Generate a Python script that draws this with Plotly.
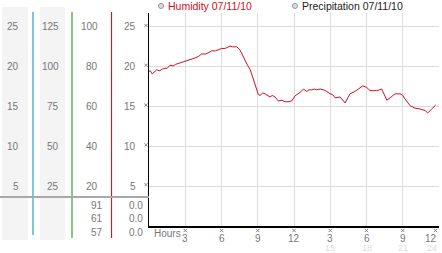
import plotly.graph_objects as go

W, H = 442, 253

# ---- data ----
hours = [0.0, 0.1, 0.27, 0.45, 0.63, 0.9, 1.1, 1.32, 1.5, 1.74, 2.0, 2.2, 2.43, 2.7, 3.12, 3.4,
         3.81, 4.1, 4.36, 4.7, 5.19, 5.5, 6.02, 6.3, 6.71, 6.9, 7.26, 7.53, 7.75, 7.95, 8.15,
         8.36, 8.5, 8.64, 8.78, 8.91, 9.05, 9.19, 9.4, 9.6, 9.8, 10.02, 10.2, 10.43, 10.6, 10.71,
         11.0, 11.26, 11.5, 11.81, 12.09, 12.36, 12.6, 12.78, 13.05, 13.25, 13.47, 13.7, 13.88,
         14.16, 14.45, 14.71, 14.98, 15.2, 15.4, 15.81, 16.0, 16.23, 16.45, 16.64, 17.05, 17.33,
         17.69, 18.02, 18.29, 18.6, 18.85, 19.26, 19.45, 19.68, 19.95, 20.36, 20.78, 21.0, 21.19,
         21.4, 21.61, 22.02, 22.43, 22.85, 23.07, 23.4, 23.73]
humidity = [19.4, 19.5, 19.1, 19.4, 19.6, 19.5, 19.7, 19.8, 19.8, 20.2, 20.1, 20.3, 20.4, 20.6,
            20.8, 20.9, 21.1, 21.3, 21.6, 21.6, 22.0, 22.0, 22.3, 22.3, 22.6, 22.5, 22.5, 22.1,
            21.4, 20.7, 20.2, 19.7, 19.0, 18.3, 17.6, 17.0, 16.5, 16.4, 16.7, 16.6, 16.4, 16.2,
            16.4, 16.2, 15.9, 15.7, 15.8, 15.6, 15.6, 15.7, 16.35, 16.6, 16.9, 17.2, 16.9, 17.1,
            17.1, 17.2, 17.1, 17.2, 17.1, 16.9, 16.6, 16.5, 16.1, 16.2, 15.9, 15.45, 16.1, 16.6,
            16.9, 17.2, 17.6, 17.4, 17.0, 17.0, 17.0, 17.2, 16.5, 15.8, 16.1, 16.6, 16.6, 16.4,
            15.95, 15.5, 15.1, 14.8, 14.7, 14.5, 14.2, 14.7, 15.2]

y_ticks = [25, 20, 15, 10, 5]
col1_labels = ["25", "20", "15", "10", "5"]
col2_labels = ["125", "100", "75", "50", "25"]
col3_labels = ["100", "80", "60", "40", "20"]
col4_labels = ["25", "20", "15", "10", "5"]
bottom_col3 = ["91", "61", "57"]
bottom_col4 = ["0.0", "0.0", "0.0"]
x_ticks = [3, 6, 9, 12, 15, 18, 21, 24]
x_labels_top = ["3", "6", "9", "12", "3", "6", "9", "12"]
x_labels_bottom = {15: "15", 18: "18", 21: "21", 24: "24"}
legend_items = [("Humidity 07/11/10", "#cc1122"), ("Precipitation 07/11/10", "#222222")]

# ---- geometry ----
X0, X1 = 149, 439   # plot left/right px
YT, YB = 13, 226    # plot top/bottom px
YMAX = 26.75
PX_PER_H = (X1 - X0) / 24.0
PX_PER_V = (YB - YT) / YMAX

def px(x):
    return x / W

def py(y):
    return (H - y) / H

def yval_px(v):
    return YB - v * PX_PER_V

def hour_px(h):
    return X0 + h * PX_PER_H

FONT = "Liberation Sans, Arial, sans-serif"
GRAY = "#777777"

fig = go.Figure()
fig.add_trace(go.Scatter(x=hours, y=humidity, mode="lines",
                         line=dict(color="#cc1122", width=1), hoverinfo="skip",
                         showlegend=False))

shapes = []
annotations = []

def add_mark(cx, cy):
    r = 1.6
    for s in (1, -1):
        shapes.append(dict(type="line", xref="paper", yref="paper",
                           x0=px(cx - r), x1=px(cx + r), y0=py(cy - s * r), y1=py(cy + s * r),
                           line=dict(color="#8a8a8a", width=1)))

# left panel gray columns
for (a, b) in [(2, 28), (40, 65)]:
    shapes.append(dict(type="rect", xref="paper", yref="paper", x0=px(a), x1=px(b),
                       y0=py(240), y1=py(7), fillcolor="#f4f4f4", line=dict(width=0),
                       layer="below"))
# colored vertical lines
for (x, c, ybot) in [(33, "#2a9fc4", 235), (72, "#33a033", 238), (111.5, "#b02828", 238)]:
    shapes.append(dict(type="line", xref="paper", yref="paper", x0=px(x), x1=px(x),
                       y0=py(ybot), y1=py(12), line=dict(color=c, width=1.2)))
# gray horizontal separator
shapes.append(dict(type="line", xref="paper", yref="paper", x0=0, x1=px(X0),
                   y0=py(197), y1=py(197), line=dict(color="#a8a8a8", width=2)))

# left panel labels + left-axis marks
for i, v in enumerate(y_ticks):
    yy = py(yval_px(v))
    for lab, xr in [(col1_labels[i], 20.5), (col2_labels[i], 60.5),
                    (col3_labels[i], 99.5), (col4_labels[i], 137.5)]:
        annotations.append(dict(text=lab, x=px(xr), y=yy, xref="paper", yref="paper",
                                xanchor="right", yanchor="middle", showarrow=False,
                                font=dict(family=FONT, size=10, color=GRAY)))
    add_mark(146, yval_px(v) - 1.5)
for i, (a, b) in enumerate(zip(bottom_col3, bottom_col4)):
    yy = py(205 + i * 13.5)
    annotations.append(dict(text=a, x=px(104.5), y=yy, xref="paper", yref="paper",
                            xanchor="right", yanchor="middle", showarrow=False,
                            font=dict(family=FONT, size=10, color=GRAY)))
    annotations.append(dict(text=b, x=px(144.5), y=yy, xref="paper", yref="paper",
                            xanchor="right", yanchor="middle", showarrow=False,
                            font=dict(family=FONT, size=10, color=GRAY)))

# x labels
annotations.append(dict(text="Hours", x=px(152), y=py(233), xref="paper", yref="paper",
                        xanchor="left", yanchor="middle", showarrow=False,
                        font=dict(family=FONT, size=10, color=GRAY)))
for t, lab in zip(x_ticks, x_labels_top):
    last = (t == x_ticks[-1])
    xa = "right" if last else "center"
    annotations.append(dict(text=lab, x=t, y=py(238), xref="x", yref="paper",
                            xanchor=xa, yanchor="middle", showarrow=False,
                            font=dict(family=FONT, size=10, color=GRAY)))
    add_mark(hour_px(t) - (3.5 if last else 0), 230.5)
    if t in x_labels_bottom:
        annotations.append(dict(text=x_labels_bottom[t], x=t, y=py(247.5), xref="x",
                                yref="paper", xanchor=xa, yanchor="middle",
                                showarrow=False,
                                font=dict(family=FONT, size=9, color="#dddddd")))

# legend
for (lab, col), cx in zip(legend_items, [161, 295]):
    shapes.append(dict(type="circle", xref="paper", yref="paper", x0=px(cx - 2.5),
                       x1=px(cx + 2.5), y0=py(8.5), y1=py(3.5), fillcolor="#dddddd",
                       line=dict(color="#999999", width=1)))
    annotations.append(dict(text=lab, x=px(cx + 4.5), y=py(6.5), xref="paper", yref="paper",
                            xanchor="left", yanchor="middle", showarrow=False,
                            font=dict(family=FONT, size=10.5, color=col)))

fig.update_layout(
    width=W, height=H, margin=dict(l=0, r=0, t=0, b=0),
    paper_bgcolor="white", plot_bgcolor="white",
    shapes=shapes, annotations=annotations, showlegend=False,
    xaxis=dict(domain=[px(X0), px(X1)], range=[0, 24], tickvals=x_ticks,
               showticklabels=False, ticks="", showgrid=True, gridcolor="#dcdcdc",
               gridwidth=1, zeroline=False, showline=True, linecolor="black",
               linewidth=2, fixedrange=True),
    yaxis=dict(domain=[py(YB), py(YT)], range=[0, YMAX], tickvals=y_ticks,
               showticklabels=False, ticks="", showgrid=True, gridcolor="#dcdcdc",
               gridwidth=1, zeroline=False, showline=True, linecolor="black",
               linewidth=1, fixedrange=True),
)

fig.write_html("out.html")
